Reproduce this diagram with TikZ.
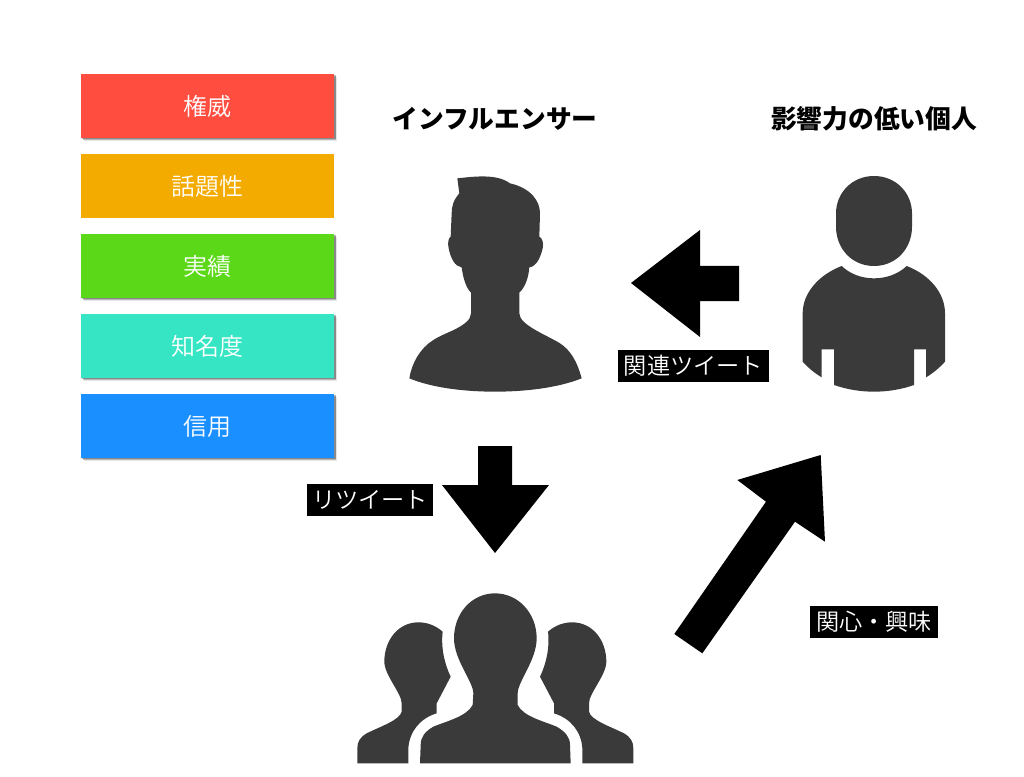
\documentclass[tikz,border=0pt]{standalone}
\usepackage{fontspec}
\setmainfont{Noto Sans CJK JP}
\newfontfamily\cjklight{Noto Sans CJK JP DemiLight}
\usetikzlibrary{shadows}
\definecolor{silh}{HTML}{3A3A3A}
\definecolor{boxa}{HTML}{FF4D3F}
\definecolor{boxb}{HTML}{F4AB00}
\definecolor{boxc}{HTML}{5BD818}
\definecolor{boxd}{HTML}{36E5C3}
\definecolor{boxe}{HTML}{1A8FFF}
\tikzset{
  quality/.style={minimum width=190pt,minimum height=48pt,inner sep=0pt,text=white,font=\cjklight\fontsize{18pt}{18pt}\selectfont},
  softshadow/.style={
    drop shadow={shadow xshift=2.4pt,shadow yshift=-2.4pt,fill=black,opacity=0.1},
    drop shadow={shadow xshift=1.7pt,shadow yshift=-1.7pt,fill=black,opacity=0.2},
    drop shadow={shadow xshift=1pt,shadow yshift=-1pt,fill=black,opacity=0.25}},
  noshadow/.style={},
  tag/.style={fill=black,text=white,inner sep=0pt,minimum height=24pt,font=\cjklight\fontsize{17.4pt}{18pt}\selectfont},
  heading/.style={font=\fontsize{19.3pt}{20pt}\selectfont\bfseries},
  silhouette/.style={fill=silh,draw=none},
  bigarrow/.style={fill=black,draw=none}
}
\begin{document}
\begin{tikzpicture}[x=0.75pt,y=-0.75pt]
    \useasboundingbox (0,0) rectangle (1024,777);
    % quality boxes
    \foreach \i/\boxname/\boxlook/\boxtext in {0/boxa/softshadow/権威,1/boxb/noshadow/話題性,2/boxc/softshadow/実績,3/boxd/softshadow/知名度,4/boxe/softshadow/信用}{
      \pgfmathsetmacro{\yc}{106+80*\i}
      \node[quality,\boxlook,fill=\boxname] (\boxname) at (207.5,\yc) {\boxtext};}
    % headings
    \node[heading] (influencer) at (495,119) {インフルエンサー};
    \node[heading] (individual) at (874,119) {影響力の低い個人};
    % influencer
    \begin{scope}[shift={(400,170)},x=0.25pt,y=-0.25pt]
      \fill[silhouette] (172,25) -- (178,70) .. controls (160,90) and (155,110) .. (155,130)
        -- (152,200) .. controls (144,205) and (143,220) .. (146,235) .. controls (152,265) and (165,290) .. (185,292)
        .. controls (190,330) and (200,355) .. (213,368) -- (213,430)
        .. controls (213,450) and (190,465) .. (165,478) .. controls (145,488) and (120,497) .. (100,510)
        .. controls (60,535) and (35,580) .. (28,625)
        .. controls (100,655) and (200,665) .. (285,665) .. controls (370,665) and (470,655) .. (545,625)
        .. controls (530,570) and (510,540) .. (480,520) .. controls (440,495) and (358,465) .. (358,430)
        -- (358,368) .. controls (372,355) and (385,330) .. (388,292)
        .. controls (410,290) and (422,260) .. (428,235) .. controls (431,220) and (428,205) .. (418,200) -- (420,130)
        .. controls (420,95) and (395,55) .. (330,40) .. controls (290,10) and (220,20) .. (172,25) -- cycle;
    \end{scope}
    % individual
    \begin{scope}[shift={(790,170)},x=0.25pt,y=-0.25pt]
      \fill[silhouette] (252,18) .. controls (185,18) and (138,70) .. (138,130) -- (138,170)
        .. controls (138,235) and (185,288) .. (252,288) .. controls (319,288) and (366,235) .. (366,170)
        -- (366,130) .. controls (366,70) and (319,18) .. (252,18) -- cycle;
      \fill[silhouette] (155,288) .. controls (180,312) and (215,325) .. (252,325)
        .. controls (289,325) and (325,312) .. (350,288) .. controls (420,315) and (465,370) .. (465,430)
        -- (465,575) .. controls (447,595) and (428,610) .. (408,622) -- (408,538) -- (372,538) -- (372,645)
        .. controls (335,658) and (295,665) .. (252,665) .. controls (209,665) and (170,658) .. (132,645)
        -- (132,538) -- (95,538) -- (95,622) .. controls (75,610) and (56,595) .. (38,575) -- (38,430)
        .. controls (38,370) and (85,315) .. (155,288) -- cycle;
    \end{scope}
    % group
    \begin{scope}[shift={(350,585)},x=0.25pt,y=-0.25pt]
      \fill[silhouette] (435,25) .. controls (365,25) and (312,85) .. (312,160)
        .. controls (312,225) and (370,290) .. (370,325) -- (368,360)
        .. controls (350,395) and (285,410) .. (250,425) .. controls (225,440) and (212,455) .. (212,480)
        -- (210,535) -- (662,535) -- (660,480) .. controls (660,455) and (645,440) .. (620,425)
        .. controls (585,410) and (520,395) .. (503,360) -- (503,325)
        .. controls (503,290) and (560,225) .. (560,160) .. controls (560,85) and (505,25) .. (435,25) -- cycle;
      \foreach \m/\o in {1/0,-1/872}{
        \fill[silhouette,shift={(\o,0)},xscale=\m] (278,140) .. controls (255,120) and (230,112) .. (205,112)
          .. controls (145,112) and (103,165) .. (103,230) .. controls (103,270) and (155,325) .. (155,355)
          -- (155,380) .. controls (150,405) and (90,425) .. (50,445) .. controls (30,457) and (22,470) .. (22,490)
          -- (22,535) -- (175,535) -- (175,490) .. controls (178,440) and (210,400) .. (260,385)
          -- (260,355) -- (302,275) .. controls (285,240) and (272,190) .. (278,140) -- cycle;}
    \end{scope}
    % arrows
    \fill[bigarrow] (631,283) -- (700,230) -- (700,266) -- (739,266) -- (739,301) -- (700,301) -- (700,337) -- cycle;
    \fill[bigarrow] (478,446) -- (512,446) -- (512,485) -- (549,485) -- (495,553) -- (442,485) -- (478,485) -- cycle;
    \fill[bigarrow] (820.7,455) -- (825,541.7) -- (795,521.7) -- (702.3,653.3) -- (674.3,634) -- (766,501.7) -- (737.3,480) -- cycle;
    % labels
    \node[tag,minimum width=113.25pt] (related) at (693.5,366) {関連ツイート};
    \node[tag,minimum width=94.5pt] (retweet) at (370,500) {リツイート};
    \node[tag,minimum width=96pt] (interest) at (874,622) {関心・興味};
\end{tikzpicture}
\end{document}
